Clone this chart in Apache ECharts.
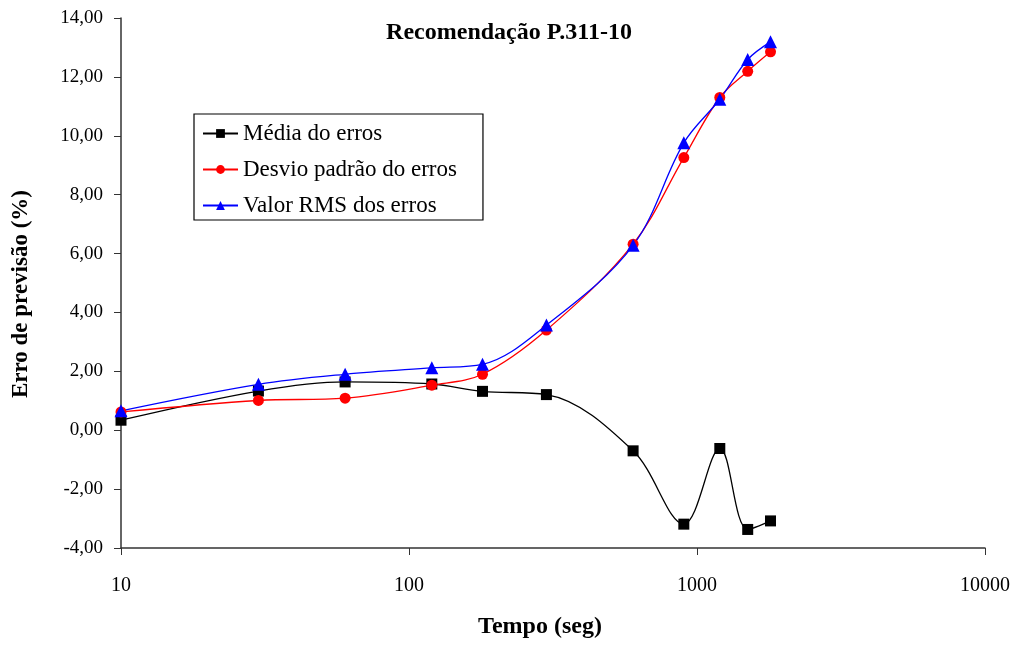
<!DOCTYPE html>
<html>
<head>
<meta charset="utf-8">
<script src="https://cdn.jsdelivr.net/npm/echarts@6/dist/echarts.min.js"></script>
<style>
  html, body { margin: 0; padding: 0; background: #fff; }
  #chart { width: 1016px; height: 648px; }
</style>
</head>
<body>
<div id="chart"></div>
<script>
// Tempo (s) de cada medição
const tempos = [10, 30, 60, 120, 180, 300, 600, 900, 1200, 1500, 1800];
// Erro de previsão (%)
const mediaErros  = [0.34, 1.33, 1.64, 1.57, 1.32, 1.21, -0.70, -3.19, -0.62, -3.37, -3.08];
const desvioErros = [0.62, 1.01, 1.09, 1.53, 1.90, 3.40, 6.32, 9.26, 11.30, 12.19, 12.85];
const rmsErros    = [0.66, 1.56, 1.90, 2.12, 2.24, 3.57, 6.28, 9.76, 11.24, 12.59, 13.19];

const nomes = ['Média do erros', 'Desvio padrão do erros', 'Valor RMS dos erros'];
const yTicks = { min: -4, max: 14, step: 2 };
const xTicks = { min: 10, max: 10000 };

const serif = '"Liberation Serif", "Times New Roman", serif';

function pares(vals) { return tempos.map((t, i) => [t, vals[i]]); }

function serie(nome, vals, cor, simbolo, tam) {
  return {
    name: nome,
    type: 'line',
    data: pares(vals),
    smooth: 0.35,
    symbol: simbolo,
    symbolSize: tam,
    showAllSymbol: true,
    lineStyle: { color: cor, width: 1.3 },
    itemStyle: { color: cor, borderWidth: 0 },
    emphasis: { disabled: true },
    z: 3
  };
}

const chart = echarts.init(document.getElementById('chart'), null, { renderer: 'canvas' });
chart.setOption({
  animation: false,
  backgroundColor: '#fff',
  title: {
    text: 'Recomendação P.311-10',
    left: 504, top: 16, textAlign: 'center',
    textStyle: { fontFamily: serif, fontWeight: 'bold', fontSize: 24, color: '#000' }
  },
  legend: {
    data: nomes,
    orient: 'vertical',
    left: 194, top: 114,
    backgroundColor: '#fff',
    borderColor: '#000', borderWidth: 1.2,
    padding: [8, 26, 3, 8],
    itemWidth: 35, itemHeight: 11,
    itemGap: 13,
    textStyle: { fontFamily: serif, fontSize: 23, color: '#000' },
    inactiveColor: '#000'
  },
  grid: { left: 121, right: 31, top: 18, bottom: 100, containLabel: false, outerBoundsMode: 'none' },
  xAxis: {
    type: 'log', logBase: 10,
    min: xTicks.min, max: xTicks.max,
    name: 'Tempo (seg)', nameLocation: 'middle', nameGap: 67,
    nameTextStyle: { fontFamily: serif, fontWeight: 'bold', fontSize: 24, color: '#000', padding: [0, 26, 0, 0] },
    axisLine: { onZero: false, lineStyle: { color: '#333', width: 1.5 } },
    axisTick: { show: true, length: 7, lineStyle: { color: '#333' } },
    minorTick: { show: false },
    splitLine: { show: false },
    axisLabel: {
      fontFamily: serif, fontSize: 20, color: '#000', margin: 28,
      formatter: v => String(Math.round(v))
    }
  },
  yAxis: {
    type: 'value',
    min: yTicks.min, max: yTicks.max, interval: yTicks.step,
    name: 'Erro de previsão (%)', nameLocation: 'middle', nameGap: 88,
    nameTextStyle: { fontFamily: serif, fontWeight: 'bold', fontSize: 23, color: '#000', padding: [0, 22, 0, 0] },
    axisLine: { show: true, lineStyle: { color: '#333', width: 1.5 } },
    axisTick: { show: true, length: 7, lineStyle: { color: '#333' } },
    splitLine: { show: false },
    axisLabel: {
      fontFamily: serif, fontSize: 19, color: '#000', margin: 18,
      formatter: v => v.toFixed(2).replace('.', ',')
    }
  },
  series: [
    serie(nomes[0], mediaErros, '#000000', 'rect', 11),
    serie(nomes[1], desvioErros, '#ff0000', 'circle', 11),
    serie(nomes[2], rmsErros, '#0000ff', 'triangle', 13)
  ]
});
</script>
</body>
</html>
